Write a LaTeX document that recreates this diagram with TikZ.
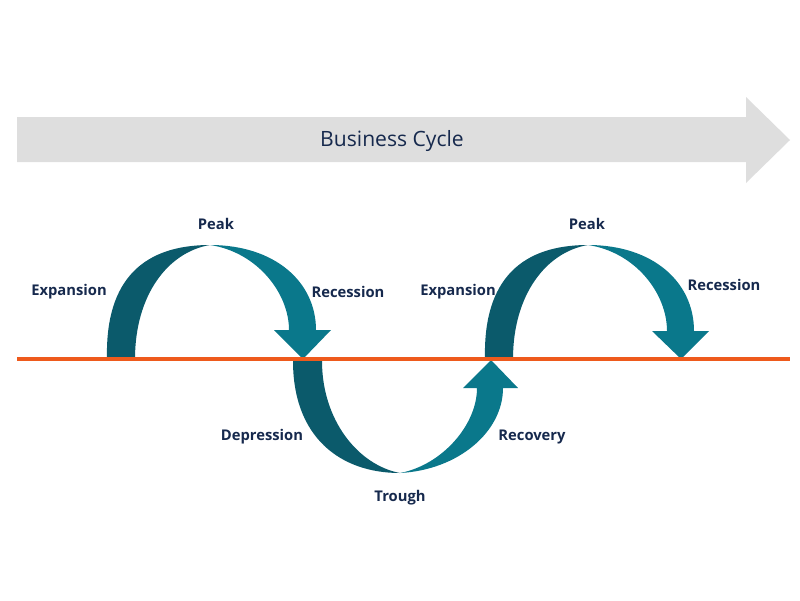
\documentclass[tikz,border=0pt]{standalone}
\usepackage{fontspec}
\setmainfont{Open Sans}
\usepackage{tikz}
\usetikzlibrary{calc}

\definecolor{darkteal}{HTML}{0B5A6B}
\definecolor{lightteal}{HTML}{0A788B}
\definecolor{lineorange}{HTML}{EE5A1C}
\definecolor{bandgray}{HTML}{DEDEDE}
\definecolor{textnavy}{HTML}{16294D}

\tikzset{
  phase/.style={text=textnavy,font=\bfseries\fontsize{10.5}{12}\selectfont},
}

\begin{document}
\begin{tikzpicture}[x=0.025cm,y=-0.025cm]
      \useasboundingbox (0,0) rectangle (800,600);
      % big arrow
      \fill[bandgray] (17,117) -- (746,117) -- (746,97) -- (790,140) -- (746,183) -- (746,162) -- (17,162) -- cycle;
      \node[text=textnavy,font=\fontsize{15}{18}\selectfont] (title) at (392,141) {Business Cycle};
      % first arch
      \fill[darkteal] (107,359) .. controls (105,278) and (145,245) .. (210,245) .. controls (168,252) and (135,295) .. (135,359) -- cycle;
      \fill[lightteal] (210,245) .. controls (275,245) and (316,282) .. (316,330) -- (331,330) -- (303,359) -- (274,330) -- (289,330) .. controls (289,293) and (257,252) .. (210,245) -- cycle;
      % trough
      \fill[darkteal] (293,361) .. controls (293,437) and (340,473) .. (400,473) .. controls (358,465) and (322,420) .. (322,361) -- cycle;
      \fill[lightteal] (400,473) .. controls (458,470) and (503,432) .. (503,388) -- (518,388) -- (491,360) -- (463,388) -- (477,388) .. controls (477,425) and (442,465) .. (400,473) -- cycle;
      % second arch
      \fill[darkteal] (485,359) .. controls (483,278) and (523,245) .. (588,245) .. controls (546,252) and (513,295) .. (513,359) -- cycle;
      \fill[lightteal] (588,245) .. controls (653,245) and (694,282) .. (694,331) -- (709,331) -- (681,359) -- (652,331) -- (667,331) .. controls (667,293) and (635,252) .. (588,245) -- cycle;
      % axis
      \draw[lineorange,line width=2.2pt] (17,359) -- (790,359);
      % labels
      \node[phase] (pk1) at (216,224) {Peak};
      \node[phase] (ex1) at (69,292) {Expansion};
      \node[phase] (re1) at (348,292) {Recession};
      \node[phase] (de) at (262,437) {Depression};
      \node[phase] (tr) at (400,498) {Trough};
      \node[phase] (rc) at (532,437) {Recovery};
      \node[phase] (ex2) at (458,292) {Expansion};
      \node[phase] (pk2) at (587,224) {Peak};
      \node[phase] (re2) at (724,285) {Recession};
    \end{tikzpicture}
\end{document}
